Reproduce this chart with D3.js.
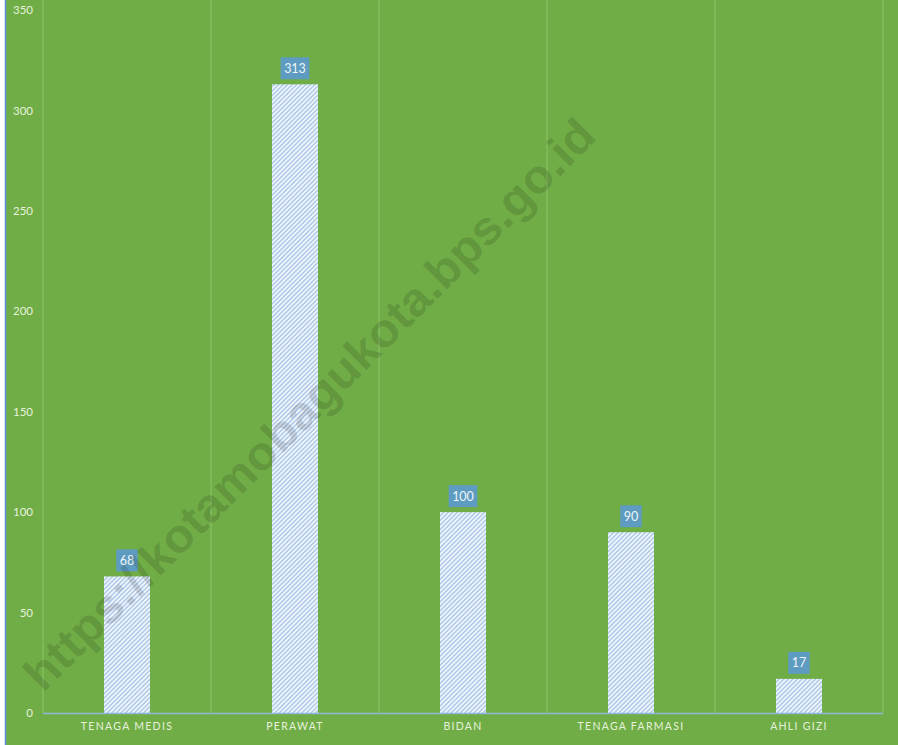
<!DOCTYPE html>
<html>
<head>
<meta charset="utf-8">
<script src="https://cdn.jsdelivr.net/npm/d3@7"></script>
<style>
  html, body { margin: 0; padding: 0; background: #ffffff; }
  svg { display: block; }
</style>
</head>
<body>
<svg id="chart" width="898" height="745"></svg>
<script>
const categories = ["TENAGA MEDIS", "PERAWAT", "BIDAN", "TENAGA FARMASI", "AHLI GIZI"];
const values = [68, 313, 100, 90, 17];
const yTicks = [0, 50, 100, 150, 200, 250, 300, 350];
const watermark = "https://kotamobagukota.bps.go.id";

const W = 898, H = 745;
const plot = { left: 43, right: 883, top: 10, bottom: 713 };
const font = "Lato, 'Open Sans', sans-serif";

const svg = d3.select("#chart");

// background
svg.append("rect").attr("x", 0).attr("y", 0).attr("width", W).attr("height", H).attr("fill", "#70ad47");
svg.append("rect").attr("x", 0).attr("y", 0).attr("width", 5).attr("height", H).attr("fill", "#ffffff");
svg.append("line").attr("x1", 5.5).attr("x2", 5.5).attr("y1", 0).attr("y2", H)
  .attr("stroke", "#5b8fd6").attr("stroke-width", 1.5);

// hatch pattern
const defs = svg.append("defs");
const pat = defs.append("pattern").attr("id", "hatch").attr("patternUnits", "userSpaceOnUse")
  .attr("width", 3.2).attr("height", 3.2).attr("patternTransform", "rotate(45)");
pat.append("rect").attr("width", 3.2).attr("height", 3.2).attr("fill", "#f2f6fc");
pat.append("line").attr("x1", 0.8).attr("x2", 0.8).attr("y1", 0).attr("y2", 3.2)
  .attr("stroke", "#a2c3e8").attr("stroke-width", 1.3);

const x = d3.scaleBand().domain(categories).range([plot.left, plot.right])
  .paddingInner(0.726).paddingOuter(0.363);
const y = d3.scaleLinear().domain([0, 350]).range([plot.bottom, plot.top]);

// vertical gridlines at band boundaries
const step = x.step();
const bounds = d3.range(categories.length + 1).map(i => plot.left + i * step);
svg.append("g").selectAll("line").data(bounds).join("line")
  .attr("x1", d => d).attr("x2", d => d)
  .attr("y1", plot.top - 10).attr("y2", plot.bottom)
  .attr("stroke", "#8dc26c").attr("stroke-width", 1);

// y axis labels
const yAxis = d3.axisLeft(y).tickValues(yTicks).tickSize(0).tickPadding(0);
const gy = svg.append("g").attr("transform", `translate(33,0)`).call(yAxis);
gy.select(".domain").remove();
gy.selectAll("text").attr("fill", "#e6f2dc").attr("font-family", font).attr("font-size", 11.5);

// bars
svg.append("g").selectAll("rect").data(values).join("rect")
  .attr("x", (d, i) => x(categories[i]))
  .attr("width", x.bandwidth())
  .attr("y", d => y(d))
  .attr("height", d => y(0) - y(d))
  .attr("fill", "url(#hatch)");

// baseline
svg.append("line").attr("x1", plot.left).attr("x2", plot.right)
  .attr("y1", plot.bottom + 0.5).attr("y2", plot.bottom + 0.5)
  .attr("stroke", "#8db7d6").attr("stroke-width", 1.5);

// x axis labels
const xAxis = d3.axisBottom(x).tickSize(0).tickPadding(0);
const gx = svg.append("g").attr("transform", `translate(0,${plot.bottom + 10})`).call(xAxis);
gx.select(".domain").remove();
gx.selectAll("text").attr("fill", "#e6f2dc").attr("font-family", font).attr("font-size", 10.5)
  .attr("letter-spacing", "1.3px").attr("dy", "0.71em");

// data labels
const lbl = svg.append("g").selectAll("g").data(values).join("g")
  .attr("transform", (d, i) => `translate(${x(categories[i]) + x.bandwidth() / 2},${y(d) - 16})`);
lbl.append("text").text(d => d)
  .attr("text-anchor", "middle").attr("dominant-baseline", "central")
  .attr("font-family", font).attr("font-size", 12.5).attr("fill", "#eef4fa")
  .each(function() {
    const bb = this.getBBox();
    d3.select(this.parentNode).insert("rect", "text")
      .attr("x", -bb.width / 2 - 3.5).attr("y", -11)
      .attr("width", bb.width + 7).attr("height", 22)
      .attr("fill", "#5d9cc0");
  });

// watermark
svg.append("text").text(watermark)
  .attr("transform", "translate(309,404) rotate(-45)")
  .attr("text-anchor", "middle").attr("dominant-baseline", "central")
  .attr("font-family", "'Liberation Sans', Arial, sans-serif").attr("font-weight", "bold")
  .attr("font-size", 47).attr("textLength", 785).attr("lengthAdjust", "spacingAndGlyphs")
  .attr("fill", "#000000").attr("fill-opacity", 0.15);
</script>
</body>
</html>
